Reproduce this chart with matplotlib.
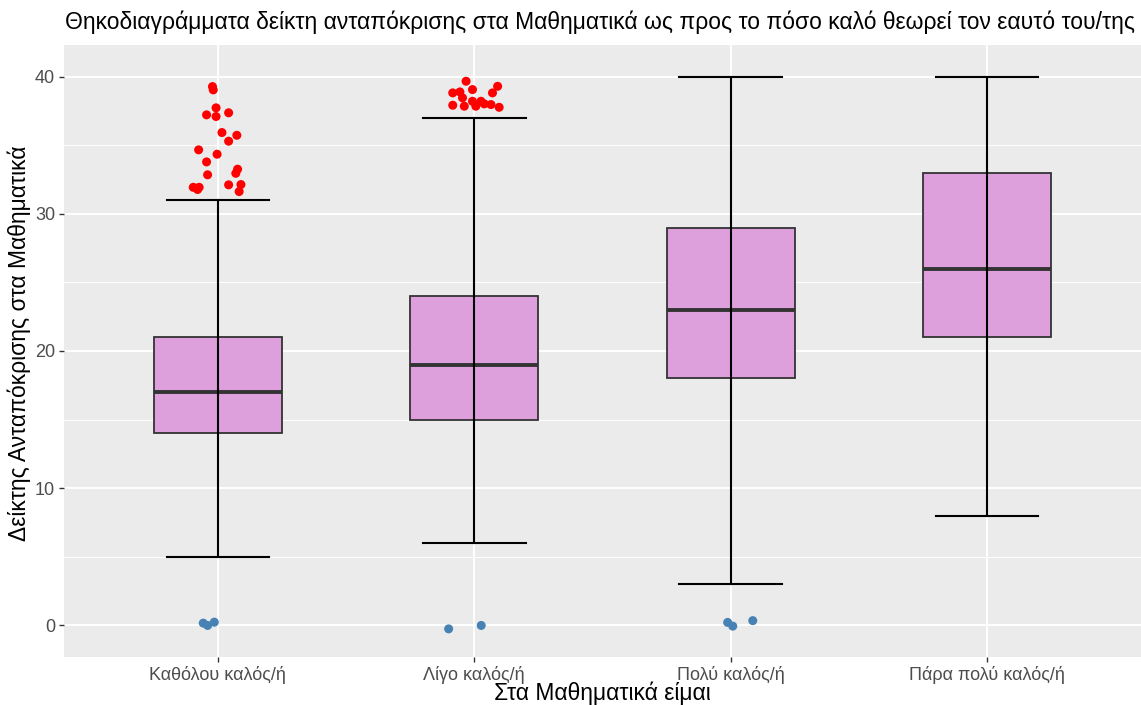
import matplotlib
matplotlib.use("Agg")
import matplotlib.pyplot as plt
import numpy as np

plt.rcParams['font.family'] = ['Liberation Sans', 'DejaVu Sans']

categories = ["Καθόλου καλός/ή", "Λίγο καλός/ή", "Πολύ καλός/ή", "Πάρα πολύ καλός/ή"]
whisker_low = [5, 6, 3, 8]
q1 = [14, 15, 18, 21]
median = [17, 19, 23, 26]
q3 = [21, 24, 29, 33]
whisker_high = [31, 37, 40, 40]

# high outliers (red): category index, jitter offset, value
hi_cat = [0]*21 + [1]*15
hi_dx = [-0.021, -0.018, -0.007, -0.044, -0.007, 0.042, 0.016, 0.074, 0.042, -0.075,
         -0.003, -0.044, 0.077, 0.070, -0.040, 0.042, 0.090, -0.096, -0.073, -0.079, 0.083,
         -0.032, -0.084, -0.056, -0.007, 0.091, 0.071, -0.084, -0.039, -0.007, 0.006,
         0.039, 0.065, 0.097, -0.046, 0.026]
hi_val = [39.27, 39.03, 37.72, 37.21, 37.09, 37.36, 35.92, 35.72, 35.29, 34.66,
          34.34, 33.78, 33.25, 32.95, 32.84, 32.11, 32.13, 31.93, 31.93, 31.77, 31.62,
          39.66, 38.81, 38.88, 39.05, 39.29, 38.81, 37.91, 37.84, 38.20, 37.84,
          38.01, 37.96, 37.76, 38.45, 38.20]

# low outliers (blue)
lo_cat = [0, 0, 0, 1, 1, 2, 2, 2]
lo_dx = [-0.057, -0.040, -0.014, -0.100, 0.027, -0.012, 0.008, 0.086]
lo_val = [0.17, 0.0, 0.24, -0.25, 0.0, 0.22, -0.05, 0.35]

fig = plt.figure(figsize=(11.41, 7.05), dpi=100)
ax = fig.add_axes([64/1141, 48/705, (1141-64)/1141, (657-45)/705])
ax.set_facecolor('#EBEBEB')
for s in ax.spines.values():
    s.set_visible(False)

x = np.arange(1, len(categories)+1)
ax.set_xlim(0.4, 4.6)
ax.set_ylim(-2.3, 42.3)

# grid
for yv in [5, 15, 25, 35]:
    ax.axhline(yv, color='white', lw=0.7, zorder=0)
for yv in [0, 10, 20, 30, 40]:
    ax.axhline(yv, color='white', lw=1.4, zorder=0)
for xv in x:
    ax.axvline(xv, color='white', lw=1.4, zorder=0)

bw = 0.5
cw = 0.4
for i, xi in enumerate(x):
    ax.add_patch(plt.Rectangle((xi - bw/2, q1[i]), bw, q3[i]-q1[i],
                               facecolor='#DDA0DD', edgecolor='#333333', lw=1.3, zorder=2))
    ax.plot([xi - bw/2, xi + bw/2], [median[i], median[i]], color='#333333', lw=2.8,
            zorder=3, solid_capstyle='butt')
    ax.plot([xi, xi], [whisker_low[i], whisker_high[i]], color='black', lw=1.5, zorder=4)
    for yv in (whisker_low[i], whisker_high[i]):
        ax.plot([xi - cw/2, xi + cw/2], [yv, yv], color='black', lw=1.5, zorder=4)

hx = np.array(hi_cat) + 1 + np.array(hi_dx)
ax.scatter(hx, hi_val, s=42, color='red', edgecolors='none', zorder=5)
lx = np.array(lo_cat) + 1 + np.array(lo_dx)
ax.scatter(lx, lo_val, s=42, color='steelblue', edgecolors='none', zorder=5)

ax.set_xticks(x)
ax.set_xticklabels(categories)
ax.set_yticks([0, 10, 20, 30, 40])
ax.tick_params(axis='both', colors='#333333', labelcolor='#4D4D4D', labelsize=13,
               length=3.5, width=1.0)
ax.tick_params(axis='x', pad=3)
ax.tick_params(axis='y', pad=3)

ax.set_xlabel("Στα Μαθηματικά είμαι", fontsize=16.5, color='black', labelpad=-2)
ax.set_ylabel("Δείκτης Ανταπόκρισης στα Μαθηματικά", fontsize=16.5, color='black')
ax.yaxis.set_label_coords(-0.031, 0.513)
fig.text(65/1141, 1 - 22/705, "Θηκοδιαγράμματα δείκτη ανταπόκρισης στα Μαθηματικά ως προς το πόσο καλό θεωρεί τον εαυτό του/της",
         fontsize=16.5, ha='left', va='center', color='black')

fig.savefig("out.png", dpi=100)
